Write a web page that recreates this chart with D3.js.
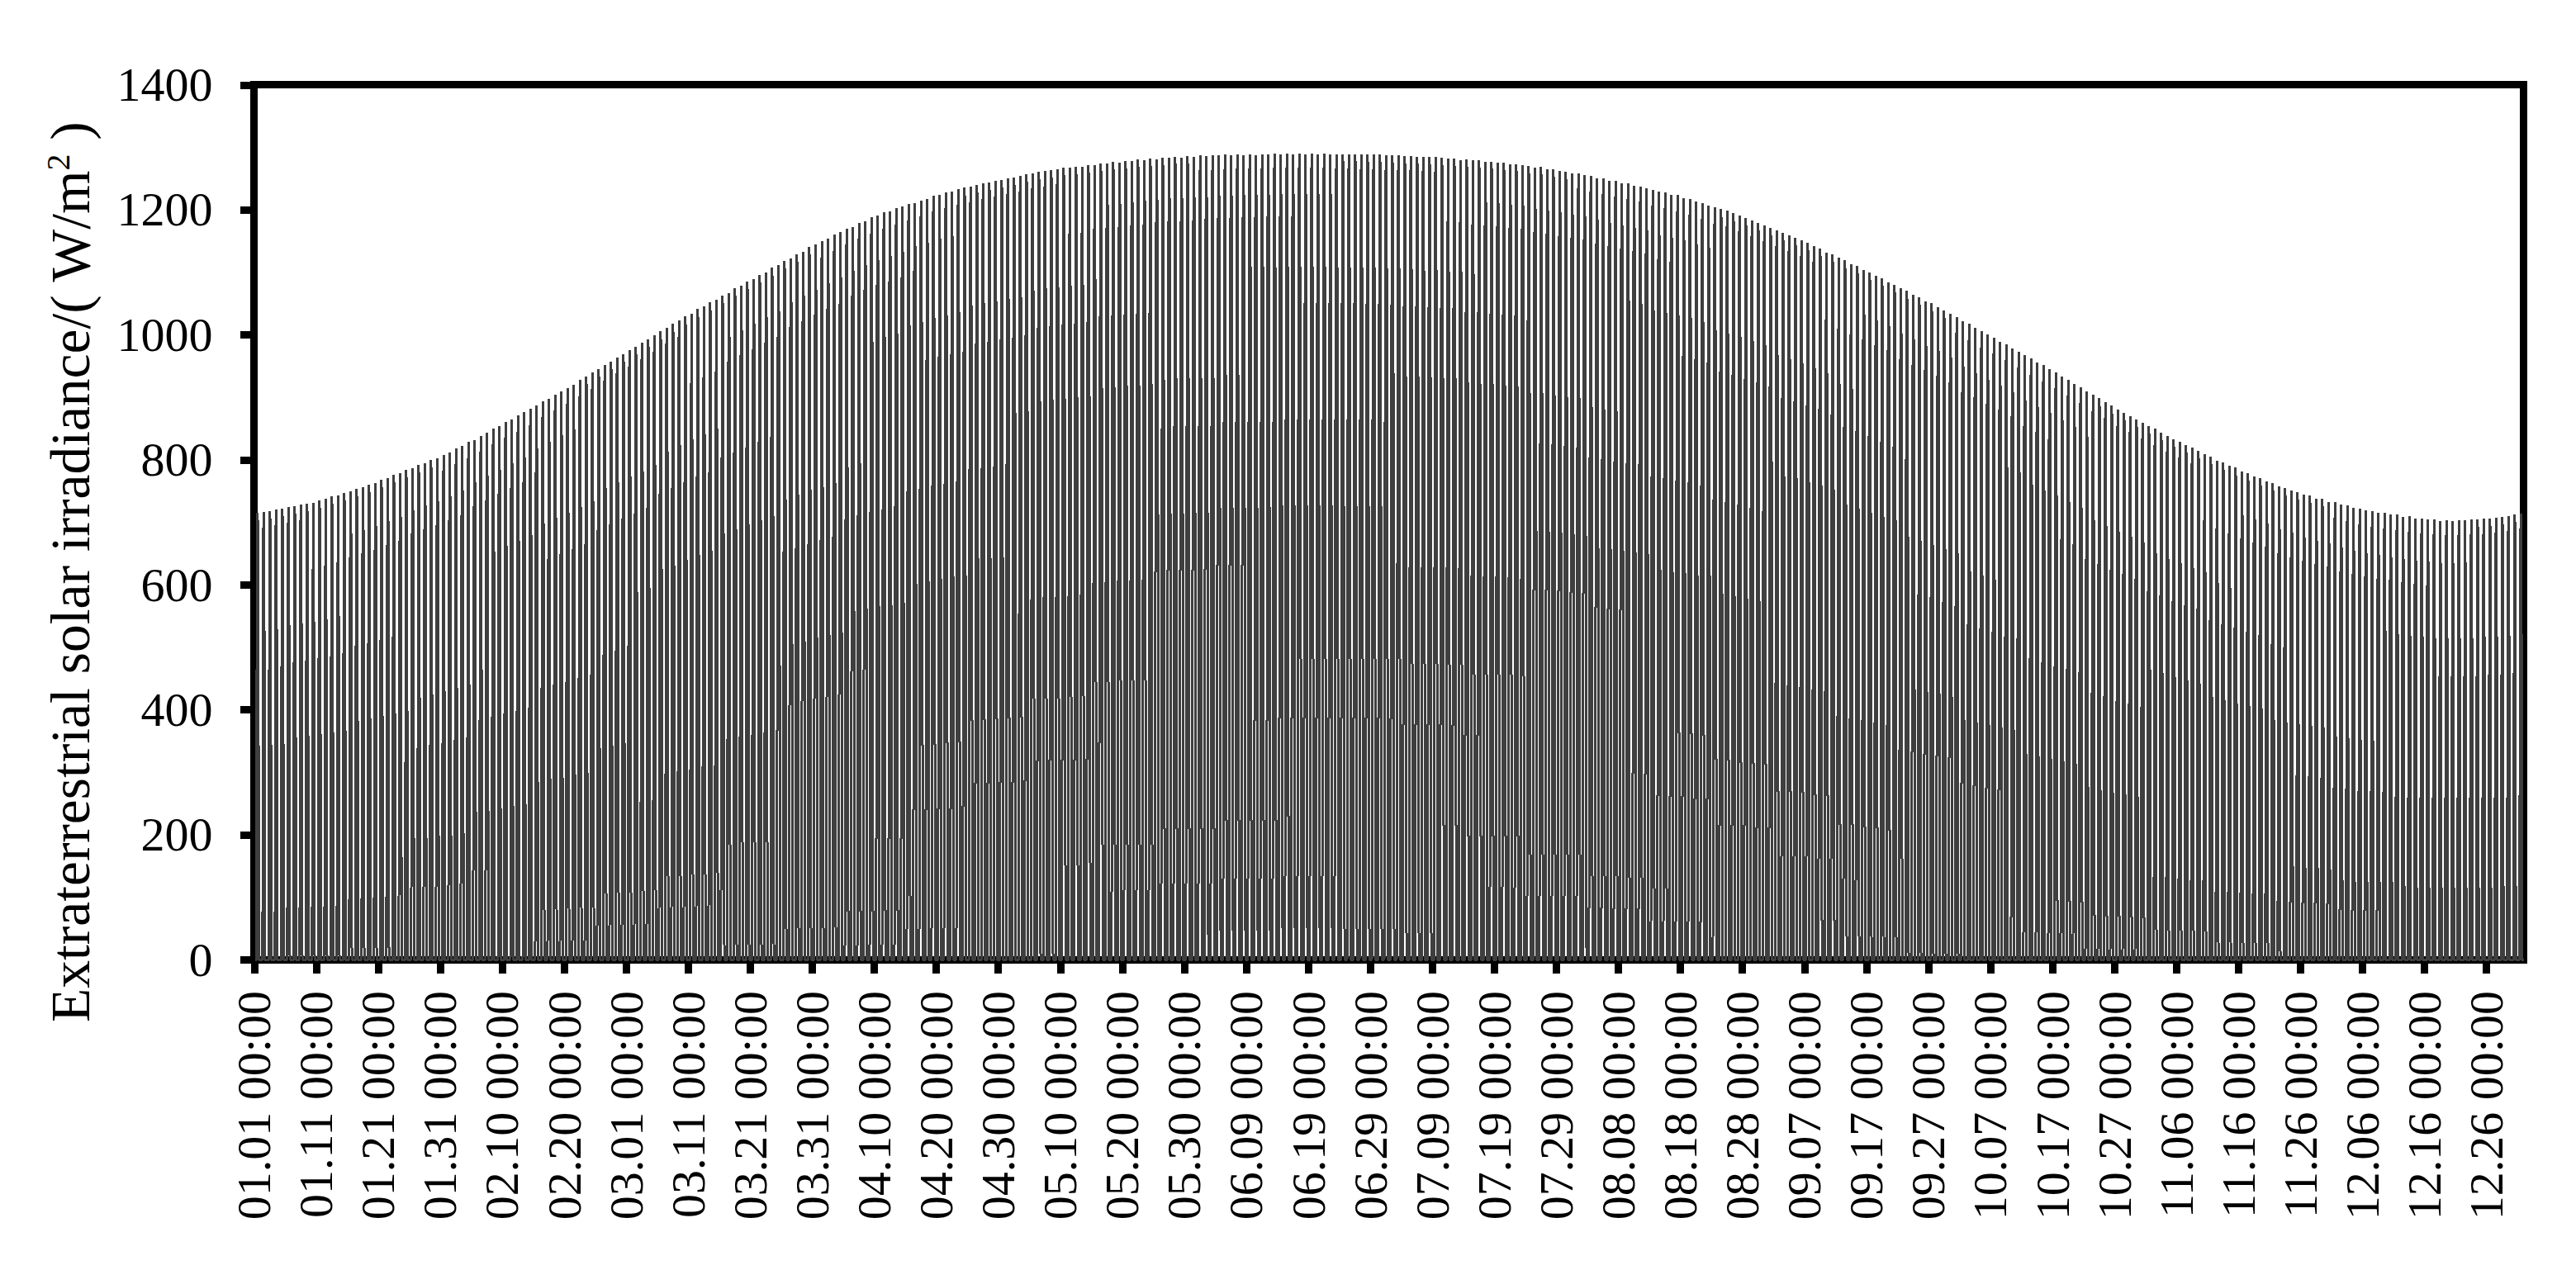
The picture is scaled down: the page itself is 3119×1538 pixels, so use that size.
<!DOCTYPE html>
<html lang="en">

<head>
    <meta charset="UTF-8">
    <title>Extraterrestrial solar irradiance</title>
    <script src="https://d3js.org/d3.v7.min.js"></script>
    <style>
        html, body { margin: 0; background: #fff; }
        svg { display: block; }
        text { font-family: "Liberation Serif", serif; fill: #000; }
    </style>
</head>

<body>
    <svg width="3119" height="1538"></svg>

    <script>
        // x labels, one every 10 days (leap year, day 0 = 01.01)
        const tickLabels = [
            "01.01 00:00", "01.11 00:00", "01.21 00:00", "01.31 00:00", "02.10 00:00", "02.20 00:00",
            "03.01 00:00", "03.11 00:00", "03.21 00:00", "03.31 00:00", "04.10 00:00", "04.20 00:00",
            "04.30 00:00", "05.10 00:00", "05.20 00:00", "05.30 00:00", "06.09 00:00", "06.19 00:00",
            "06.29 00:00", "07.09 00:00", "07.19 00:00", "07.29 00:00", "08.08 00:00", "08.18 00:00",
            "08.28 00:00", "09.07 00:00", "09.17 00:00", "09.27 00:00", "10.07 00:00", "10.17 00:00",
            "10.27 00:00", "11.06 00:00", "11.16 00:00", "11.26 00:00", "12.06 00:00", "12.16 00:00",
            "12.26 00:00"
        ];
        const yTicks = [0, 200, 400, 600, 800, 1000, 1200, 1400];

        // top of the spike of each day, W/m2
        const dayPeak = [
            715, 716, 718, 720, 722, 724, 726, 728, 730, 732,
            735, 738, 741, 744, 747, 750, 753, 757, 760, 764,
            768, 772, 776, 780, 784, 788, 792, 796, 800, 804,
            808, 813, 818, 823, 828, 833, 838, 844, 849, 855,
            860, 866, 871, 877, 882, 888, 893, 899, 904, 910,
            915, 921, 927, 933, 939, 945, 951, 957, 963, 969,
            975, 981, 987, 993, 999, 1005, 1011, 1017, 1023, 1029,
            1035, 1041, 1046, 1052, 1057, 1063, 1068, 1074, 1079, 1085,
            1090, 1096, 1101, 1107, 1112, 1118, 1123, 1129, 1134, 1140,
            1145, 1150, 1155, 1160, 1165, 1170, 1174, 1179, 1183, 1188,
            1192, 1196, 1199, 1203, 1206, 1209, 1212, 1215, 1218, 1222,
            1225, 1228, 1230, 1233, 1235, 1237, 1240, 1242, 1244, 1246,
            1248, 1250, 1252, 1254, 1256, 1258, 1260, 1262, 1263, 1265,
            1267, 1268, 1269, 1270, 1271, 1273, 1274, 1275, 1276, 1277,
            1278, 1279, 1280, 1281, 1282, 1282, 1283, 1284, 1285, 1285,
            1286, 1286, 1287, 1287, 1287, 1288, 1288, 1288, 1289, 1289,
            1289, 1289, 1289, 1290, 1290, 1290, 1290, 1290, 1290, 1290,
            1290, 1290, 1290, 1290, 1289, 1289, 1289, 1289, 1288, 1288,
            1288, 1288, 1287, 1287, 1287, 1286, 1286, 1285, 1285, 1284,
            1284, 1283, 1283, 1282, 1281, 1280, 1280, 1279, 1278, 1277,
            1276, 1275, 1274, 1273, 1272, 1270, 1269, 1268, 1266, 1265,
            1263, 1261, 1259, 1258, 1256, 1254, 1252, 1250, 1248, 1246,
            1244, 1242, 1240, 1237, 1235, 1232, 1230, 1228, 1225, 1223,
            1220, 1217, 1214, 1211, 1208, 1204, 1201, 1198, 1194, 1191,
            1187, 1183, 1179, 1175, 1171, 1167, 1163, 1159, 1155, 1151,
            1147, 1142, 1138, 1133, 1128, 1124, 1119, 1114, 1110, 1105,
            1100, 1095, 1090, 1085, 1080, 1075, 1070, 1065, 1060, 1055,
            1050, 1045, 1039, 1034, 1028, 1023, 1017, 1012, 1006, 1001,
            995, 990, 984, 979, 973, 968, 962, 957, 951, 946,
            940, 934, 928, 922, 916, 910, 904, 898, 892, 886,
            880, 875, 870, 864, 859, 854, 849, 843, 838, 833,
            828, 823, 819, 814, 810, 805, 800, 796, 791, 787,
            782, 778, 774, 770, 767, 763, 759, 755, 752, 748,
            745, 742, 739, 737, 734, 732, 729, 727, 724, 722,
            720, 718, 716, 715, 713, 712, 710, 709, 707, 706,
            705, 704, 703, 703, 703, 703, 704, 704, 704, 705,
            706, 707, 708, 710, 712, 714
        ];

        // hourly shape around each tick date, hours 05:00 to 19:00, night is 0
        const firstHour = 5;
        const hourlyAtTick = [
            [0, 0, 0, 151, 377, 556, 673, 724, 702, 610, 455, 247, 0, 0, 0],
            [0, 0, 0, 168, 396, 576, 694, 745, 723, 631, 474, 265, 15, 0, 0],
            [0, 0, 0, 196, 425, 607, 727, 778, 755, 663, 505, 293, 41, 0, 0],
            [0, 0, 0, 234, 466, 650, 771, 823, 800, 706, 546, 332, 77, 0, 0],
            [0, 0, 11, 280, 516, 702, 824, 877, 854, 759, 597, 380, 121, 0, 0],
            [0, 0, 60, 331, 569, 756, 880, 933, 910, 814, 650, 432, 171, 0, 0],
            [0, 0, 111, 385, 624, 813, 938, 991, 968, 871, 706, 486, 224, 0, 0],
            [0, 0, 168, 443, 683, 872, 997, 1051, 1027, 930, 765, 544, 281, 0, 0],
            [0, 0, 224, 498, 737, 926, 1051, 1104, 1081, 984, 819, 599, 337, 51, 0],
            [0, 0, 279, 550, 788, 975, 1099, 1152, 1129, 1033, 869, 651, 390, 106, 0],
            [0, 46, 330, 599, 834, 1019, 1141, 1194, 1171, 1076, 914, 698, 440, 160, 0],
            [0, 98, 377, 642, 873, 1055, 1175, 1227, 1204, 1111, 952, 739, 486, 210, 0],
            [0, 143, 417, 676, 902, 1081, 1199, 1250, 1228, 1136, 980, 772, 523, 253, 0],
            [0, 182, 451, 705, 928, 1104, 1219, 1269, 1247, 1157, 1004, 800, 556, 290, 21],
            [0, 214, 478, 727, 945, 1118, 1231, 1280, 1259, 1170, 1020, 820, 580, 320, 56],
            [0, 238, 498, 744, 958, 1128, 1240, 1288, 1267, 1180, 1032, 834, 599, 342, 82],
            [0, 252, 508, 751, 963, 1131, 1242, 1289, 1268, 1182, 1036, 841, 608, 354, 98],
            [4, 257, 512, 754, 966, 1133, 1243, 1290, 1269, 1184, 1038, 844, 612, 359, 104],
            [4, 256, 511, 753, 964, 1131, 1241, 1288, 1267, 1182, 1037, 842, 610, 358, 103],
            [0, 245, 502, 745, 958, 1126, 1237, 1284, 1263, 1177, 1031, 835, 602, 347, 90],
            [0, 226, 486, 732, 948, 1118, 1230, 1278, 1257, 1170, 1022, 824, 587, 330, 70],
            [0, 198, 462, 712, 931, 1103, 1217, 1266, 1245, 1156, 1006, 805, 565, 304, 40],
            [0, 162, 431, 685, 908, 1084, 1199, 1249, 1227, 1137, 984, 780, 535, 270, 0],
            [0, 120, 394, 653, 880, 1059, 1177, 1228, 1206, 1114, 958, 749, 501, 230, 0],
            [0, 71, 350, 613, 843, 1026, 1146, 1197, 1174, 1081, 923, 711, 458, 183, 0],
            [0, 20, 302, 569, 803, 987, 1109, 1161, 1138, 1044, 883, 668, 412, 132, 0],
            [0, 0, 248, 518, 754, 940, 1063, 1116, 1093, 997, 835, 618, 359, 77, 0],
            [0, 0, 194, 465, 702, 890, 1013, 1066, 1043, 947, 784, 566, 306, 22, 0],
            [0, 0, 138, 410, 647, 834, 958, 1011, 988, 892, 729, 510, 250, 0, 0],
            [0, 0, 85, 356, 592, 778, 901, 954, 931, 835, 673, 455, 196, 0, 0],
            [0, 0, 34, 302, 536, 722, 844, 896, 873, 778, 617, 401, 144, 0, 0],
            [0, 0, 0, 255, 488, 671, 792, 844, 821, 727, 567, 354, 99, 0, 0],
            [0, 0, 0, 212, 442, 624, 744, 795, 772, 679, 521, 310, 57, 0, 0],
            [0, 0, 0, 182, 409, 590, 708, 759, 737, 645, 488, 278, 28, 0, 0],
            [0, 0, 0, 158, 384, 563, 680, 731, 709, 617, 462, 253, 5, 0, 0],
            [0, 0, 0, 147, 372, 550, 668, 718, 696, 605, 450, 242, 0, 0, 0],
            [0, 0, 0, 146, 372, 550, 668, 718, 696, 605, 449, 242, 0, 0, 0]
        ];

        const width = 3119, height = 1538;
        const daysInYear = dayPeak.length;
        const ink = "#3f3f3f";

        // hourly points of the whole year
        let hourly = [];
        dayPeak.forEach(function(peak, day) {
            let shape = hourlyAtTick[Math.min(Math.round(day / 10), hourlyAtTick.length - 1)];
            let k = peak / d3.max(shape);
            d3.range(24).forEach(function(h) {
                let i = h - firstHour;
                hourly.push({ t: day + h / 24, v: i >= 0 && i < shape.length ? shape[i] * k : 0 });
            });
        });

        let svg = d3.select("svg");

        let x = d3.scaleLinear().domain([0, daysInYear]).range([307.5, 3055.5]);
        let y = d3.scaleLinear().domain([0, 1400]).range([1162, 102.5]);

        // axes
        let xAxis = d3.axisBottom(x)
            .tickValues(tickLabels.map((d, i) => i * 10))
            .tickFormat((d, i) => tickLabels[i])
            .tickSize(17)
            .tickSizeOuter(0);

        let yAxis = d3.axisLeft(y)
            .tickValues(yTicks)
            .tickFormat(d3.format("d"))
            .tickSize(17)
            .tickSizeOuter(0)
            .tickPadding(33);

        let gx = svg.append("g").attr("transform", `translate(0,${y(0)})`).call(xAxis);
        let gy = svg.append("g").attr("transform", `translate(${x(0)},0)`).call(yAxis);

        [gx, gy].forEach(function(g) {
            g.selectAll("line").attr("stroke", "#000").attr("stroke-width", 9).attr("shape-rendering", "crispEdges");
            g.selectAll("path").remove();
            g.selectAll("text").attr("font-size", 58).attr("font-family", "Liberation Serif").attr("fill", "#000");
        });

        gx.selectAll("text")
            .attr("transform", "rotate(-90)")
            .attr("text-anchor", "end")
            .attr("x", -38)
            .attr("y", 0)
            .attr("dy", "0.33em");

        gy.selectAll("text").attr("dy", "0.33em");

        // frame
        svg.append("rect")
            .attr("x", x(0))
            .attr("y", y(1400))
            .attr("width", x(daysInYear) - x(0))
            .attr("height", y(0) - y(1400))
            .attr("fill", "none")
            .attr("stroke", "#000")
            .attr("stroke-width", 9)
            .attr("shape-rendering", "crispEdges");

        // the hourly line, drawn over the frame, x snapped to whole pixels like the original export
        const line = d3.line().x(d => Math.round(x(d.t)) + 0.5).y(d => Math.round(y(d.v)) + 0.5);

        svg.append("path")
            .datum(hourly)
            .attr("d", line)
            .attr("fill", "none")
            .attr("stroke", ink)
            .attr("stroke-width", 3)
            .attr("stroke-linejoin", "bevel")
            .attr("shape-rendering", "crispEdges");

        // y title
        let title = svg.append("text")
            .attr("transform", "translate(108,1238) rotate(-90)")
            .attr("font-size", 67.5);
        title.append("tspan").text("Extraterrestrial solar irradiance/( W/m");
        title.append("tspan").attr("font-size", 40).attr("dy", -24).text("2");
        title.append("tspan").attr("dy", 24).text(" )");
    </script>
</body>

</html>
